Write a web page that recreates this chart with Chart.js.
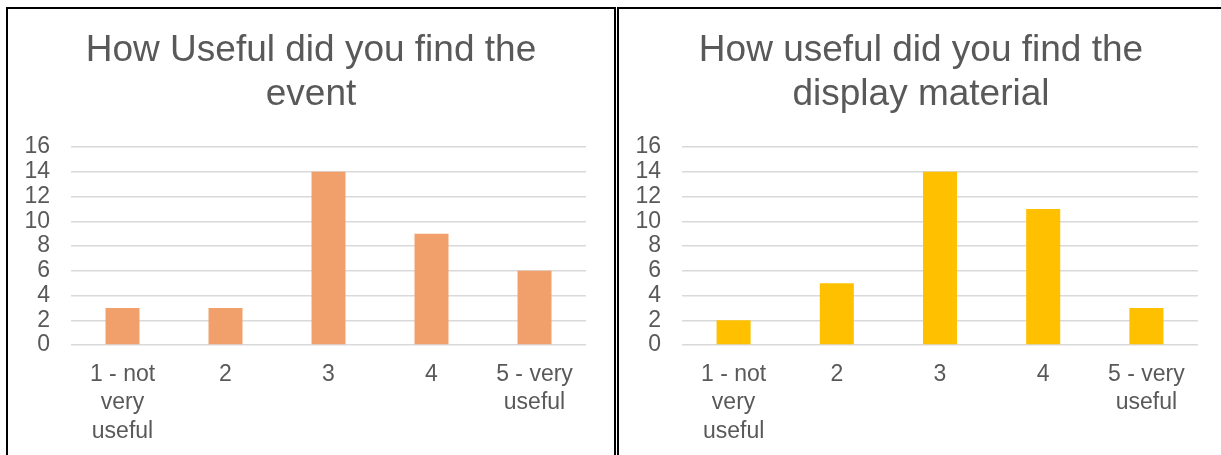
<!DOCTYPE html>
<html>
<head>
<meta charset="utf-8">
<script src="https://cdn.jsdelivr.net/npm/chart.js@4"></script>
<style>
  body { margin: 0; background: #fff; overflow: hidden; }
  .panel { position: absolute; top: 7px; border: 2px solid #000; background: #fff; }
  #p1 { left: 6px; }
  #p2 { left: 617px; }
  canvas { display: block; }
</style>
</head>
<body>
<div class="panel" id="p1"><canvas id="eventChart" width="606" height="446"></canvas></div>
<div class="panel" id="p2"><canvas id="displayChart" width="604" height="446"></canvas></div>
<script>
  // survey answers, 1 to 5
  var categories = [["1 - not", "very", "useful"], "2", "3", "4", ["5 - very", "useful"]];
  var eventValues = [3, 3, 14, 9, 6];
  var displayValues = [2, 5, 14, 11, 3];
  var yTicks = [0, 2, 4, 6, 8, 10, 12, 14, 16];

  var fontFamily = "'Liberation Sans', Arial, sans-serif";
  var textColor = "#595959";

  function makeChart(id, title, values, color, rightGap) {
    var ctx = document.getElementById(id).getContext('2d');
    return new Chart(ctx, {
      type: 'bar',
      data: {
        labels: categories,
        datasets: [{
          data: values,
          backgroundColor: color,
          categoryPercentage: 1,
          barPercentage: 0.33
        }]
      },
      options: {
        responsive: false,
        animation: false,
        layout: { padding: 0 },
        plugins: {
          legend: { display: false },
          tooltip: { enabled: false },
          title: {
            display: true,
            text: title,
            color: textColor,
            font: { family: fontFamily, size: 37, weight: 'normal', lineHeight: 1.19 },
            padding: { top: 20, bottom: 30 }
          }
        },
        scales: {
          x: {
            grid: { display: false },
            border: { display: false },
            ticks: {
              color: textColor,
              font: { family: fontFamily, size: 23, lineHeight: 1.24 },
              padding: 7,
              maxRotation: 0,
              autoSkip: false
            },
            afterFit: function (scale) { scale.height = 110; }
          },
          y: {
            min: 0,
            max: yTicks[yTicks.length - 1],
            afterBuildTicks: function (scale) {
              scale.ticks = yTicks.map(function (v) { return { value: v }; });
            },
            grid: { color: "#d9d9d9", lineWidth: 1.5, drawTicks: false },
            border: { display: false },
            ticks: {
              color: textColor,
              font: { family: fontFamily, size: 23 },
              padding: 21,
              autoSkip: false
            },
            afterFit: function (scale) { scale.width = 63; }
          },
          // empty right axis keeps the plot narrower while the title stays centred on the panel
          yRight: {
            position: 'right',
            min: 0,
            max: 1,
            grid: { display: false },
            border: { display: false },
            ticks: { display: false },
            afterFit: function (scale) { scale.width = rightGap; }
          }
        }
      }
    });
  }

  makeChart("eventChart", ["How Useful did you find the", "event"], eventValues, "#F1A06B", 28);
  makeChart("displayChart", ["How useful did you find the", "display material"], displayValues, "#FFC000", 25);
</script>
</body>
</html>
